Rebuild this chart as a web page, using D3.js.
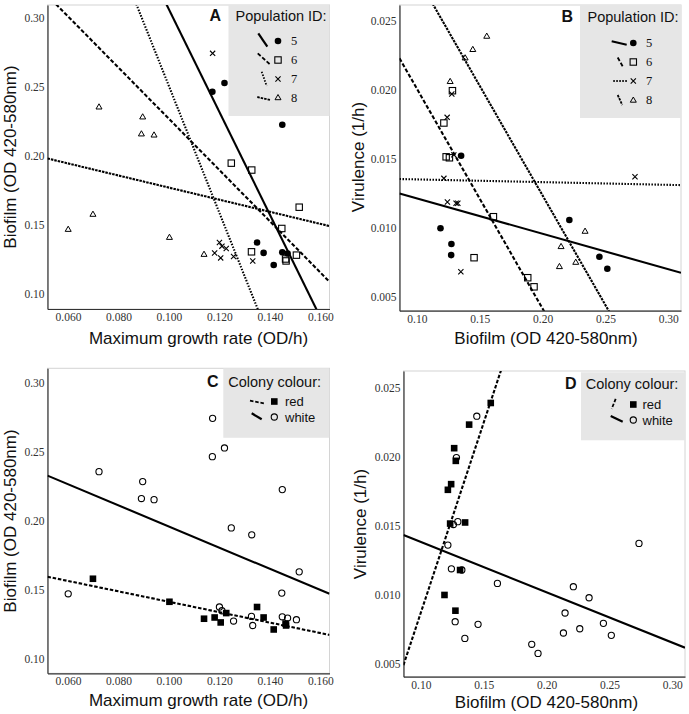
<!DOCTYPE html>
<html><head><meta charset="utf-8">
<script src="https://cdn.jsdelivr.net/npm/d3@7"></script>
<style>body{margin:0;background:#fff;} svg{display:block}</style>
</head><body><svg id="c" width="689" height="714"></svg>
<script>
// ---------- DATA: growth rate vs biofilm (panels A, C) ----------
const growthRate = [0.1172,0.1220,0.1449,0.1349,0.1375,0.1415,0.1449,0.1470,
  0.1247,0.1328,0.1516,0.1447,0.1327,0.1464,0.1462,0.1505,
  0.1173,0.1200,0.1210,0.1227,0.1181,0.1205,0.1256,0.1332,
  0.0723,0.0896,0.0891,0.0941,0.0699,0.0601,0.1002,0.1139];
const biofilmGR = [0.2466,0.2529,0.2227,0.1375,0.1299,0.1212,0.1304,0.1295,
  0.1949,0.1899,0.1630,0.1476,0.1307,0.1241,0.1255,0.1283,
  0.2744,0.1375,0.1348,0.1331,0.1299,0.1263,0.1273,0.1241,
  0.2357,0.2285,0.2162,0.2154,0.1580,0.1471,0.1413,0.1290];
const populationGR = [5,5,5,5,5,5,5,5, 6,6,6,6,6,6,6,6, 7,7,7,7,7,7,7,7, 8,8,8,8,8,8,8,8];
const colourGR = ["white","white","white","red","red","red","white","white",
  "white","white","white","white","white","red","red","white",
  "white","white","white","red","red","red","white","white",
  "white","white","white","white","red","white","red","red"];

// ---------- DATA: biofilm vs virulence (panels B, D) ----------
const biofilmV = [0.1352,0.2213,0.1188,0.1275,0.1273,0.2452,0.2515,
  0.1283,0.1215,0.1233,0.1259,0.1609,0.1455,0.1882,0.1932,
  0.1278,0.1241,0.1294,0.1215,0.2735,0.1243,0.1312,0.1326,0.1350,
  0.1556,0.1445,0.1384,0.1265,0.2338,0.2147,0.2264,0.2134];
const virulence = [0.01522,0.01056,0.00996,0.00882,0.00802,0.00790,0.00703,
  0.01993,0.01759,0.01514,0.01507,0.01080,0.00783,0.00638,0.00572,
  0.01969,0.01800,0.01528,0.01358,0.01370,0.01186,0.01177,0.01177,0.00681,
  0.02389,0.02293,0.02232,0.02061,0.00976,0.00865,0.00751,0.00720];
const populationV = [5,5,5,5,5,5,5, 6,6,6,6,6,6,6,6, 7,7,7,7,7,7,7,7,7, 8,8,8,8,8,8,8,8];
const colourV = ["red","white","red","red","white","white","white",
  "white","red","red","white","white","white","white","white",
  "red","red","white","white","white","white","red","white","white",
  "red","white","red","red","white","white","white","white"];

// ---------- Groups and fitted lines (intercept, slope) ----------
const populationIds = [5,6,7,8];
const colourIds = ["red","white"];
const fitA_intercept = [0.6778,0.4125,0.7098,0.2210];
const fitA_slope     = [-3.716,-1.855,-4.591,-0.438];
const fitB_intercept = [0.0147,0.03602,0.0137,0.04412];
const fitB_slope     = [-0.02568,-0.1594,-0.00197,-0.1589];
const fitC_intercept = [0.1791,0.2727];
const fitC_slope     = [-0.378,-0.768];
const fitD_intercept = [-0.01889,0.01746];
const fitD_slope     = [0.2757,-0.03653];

// ---------- Tick values ----------
const growthTicks = [0.06,0.08,0.10,0.12,0.14,0.16];
const biofilmTicksY = [0.10,0.15,0.20,0.25,0.30];
const biofilmTicksX = [0.10,0.15,0.20,0.25,0.30];
const virulenceTicks = [0.005,0.010,0.015,0.020,0.025];

// ---------- styles ----------
const popMarker = {5:"circleFilled",6:"squareOpen",7:"cross",8:"triangleOpen"};
const popDash = {5:null,6:"4,2",7:"1.5,1.5",8:"2.5,1"};
const colMarker = {red:"squareFilled",white:"circleOpen"};
const colDash = {red:"3.5,1.8",white:null};

const svg = d3.select("#c");
const sansFont = "'Liberation Sans', Arial, sans-serif";
const serifFont = "'Liberation Serif', 'DejaVu Serif', serif";

function drawMarker(g, kind, x, y) {
  if (kind === "circleFilled") g.append("circle").attr("cx",x).attr("cy",y).attr("r",3.3).attr("fill","#000");
  else if (kind === "circleOpen") g.append("circle").attr("cx",x).attr("cy",y).attr("r",3.1).attr("fill","none").attr("stroke","#000").attr("stroke-width",1.1);
  else if (kind === "squareOpen") g.append("rect").attr("x",x-3.2).attr("y",y-3.2).attr("width",6.4).attr("height",6.4).attr("fill","none").attr("stroke","#000").attr("stroke-width",1.1);
  else if (kind === "squareFilled") g.append("rect").attr("x",x-3.3).attr("y",y-3.3).attr("width",6.6).attr("height",6.6).attr("fill","#000");
  else if (kind === "cross") g.append("path").attr("d",`M${x-2.6},${y-2.6}L${x+2.6},${y+2.6}M${x-2.6},${y+2.6}L${x+2.6},${y-2.6}`).attr("stroke","#000").attr("stroke-width",1.1).attr("fill","none");
  else if (kind === "triangleOpen") g.append("path").attr("d",`M${x},${y-3}L${x+3},${y+2.2}L${x-3},${y+2.2}Z`).attr("stroke","#000").attr("stroke-width",1).attr("fill","none");
}

function panel(cfg) {
  const g = svg.append("g");
  const x = d3.scaleLinear().domain(cfg.xDomain).range([cfg.left, cfg.left + cfg.w]);
  const y = d3.scaleLinear().domain(cfg.yDomain).range([cfg.top + cfg.h, cfg.top]);
  // frame
  g.append("rect").attr("x",cfg.left).attr("y",cfg.top).attr("width",cfg.w).attr("height",cfg.h)
    .attr("fill","#fff").attr("stroke","#d4d4d4").attr("stroke-width",1);
  const clipId = "clip" + cfg.id;
  svg.append("clipPath").attr("id",clipId).append("rect")
    .attr("x",cfg.left).attr("y",cfg.top).attr("width",cfg.w).attr("height",cfg.h);
  // axes
  const ax = g.append("g").attr("transform",`translate(0,${cfg.top+cfg.h})`)
    .call(d3.axisBottom(x).tickValues(cfg.xTicks).tickSize(0).tickPadding(4).tickFormat(d3.format(cfg.xFmt)));
  const ay = g.append("g").attr("transform",`translate(${cfg.left},0)`)
    .call(d3.axisLeft(y).tickValues(cfg.yTicks).tickSize(0).tickPadding(3).tickFormat(d3.format(cfg.yFmt)));
  [ax,ay].forEach(a => {
    a.select(".domain").attr("stroke","#333").attr("stroke-width",1.2);
    a.selectAll("text").attr("font-family",serifFont).attr("font-size","11.5px").attr("fill","#333");
  });
  // legend box
  const lb = cfg.legend;
  g.append("rect").attr("x",lb.x).attr("y",lb.y).attr("width",lb.w).attr("height",lb.h).attr("fill","#e6e6e6");
  // fitted lines
  const lines = g.append("g").attr("clip-path",`url(#${clipId})`);
  cfg.fits.forEach(f => {
    const x0 = cfg.xDomain[0], x1 = cfg.xDomain[1];
    lines.append("line")
      .attr("x1",x(x0)).attr("y1",y(f.b0 + f.b1*x0))
      .attr("x2",x(x1)).attr("y2",y(f.b0 + f.b1*x1))
      .attr("stroke","#000").attr("stroke-width",2.1)
      .attr("stroke-dasharray",f.dash);
  });
  // points
  const pg = g.append("g");
  cfg.points.forEach(p => drawMarker(pg, p.kind, x(p.x), y(p.y)));
  // legend content
  g.append("text").attr("x",cfg.letter.x).attr("y",cfg.letter.y).text(cfg.id)
    .attr("font-family",sansFont).attr("font-weight","bold").attr("font-size","16px").attr("fill","#111");
  g.append("text").attr("x",lb.titleX).attr("y",lb.titleY).text(lb.title)
    .attr("font-family",sansFont).attr("font-size","14.5px").attr("fill","#111");
  lb.items.forEach(it => {
    g.append("line").attr("x1",lb.mx+it.seg[0]).attr("y1",it.row+it.seg[1])
      .attr("x2",lb.mx+it.seg[2]).attr("y2",it.row+it.seg[3])
      .attr("stroke","#000").attr("stroke-width",it.dash ? 1.8 : 2.2).attr("stroke-dasharray",it.dash);
    drawMarker(g, it.kind, lb.mx, it.row);
    g.append("text").attr("x",lb.lx).attr("y",it.row).attr("dy","0.35em").text(it.label)
      .attr("font-family",it.serif ? serifFont : sansFont).attr("font-size",it.serif ? "12.5px" : "13px").attr("fill","#111");
  });
  // axis titles
  g.append("text").attr("x",cfg.xTitle.x).attr("y",cfg.xTitle.y).attr("text-anchor","middle").text(cfg.xTitle.text)
    .attr("font-family",sansFont).attr("font-size","17px").attr("fill","#111");
  g.append("text").attr("transform",`translate(${cfg.yTitle.x},${cfg.yTitle.y}) rotate(-90)`).attr("text-anchor","middle").text(cfg.yTitle.text)
    .attr("font-family",sansFont).attr("font-size","17px").attr("fill","#111");
}

const ptsGR_pop = growthRate.map((v,i) => ({x:v, y:biofilmGR[i], kind:popMarker[populationGR[i]]}));
const ptsGR_col = growthRate.map((v,i) => ({x:v, y:biofilmGR[i], kind:colMarker[colourGR[i]]}));
const ptsV_pop = biofilmV.map((v,i) => ({x:v, y:virulence[i], kind:popMarker[populationV[i]]}));
const ptsV_col = biofilmV.map((v,i) => ({x:v, y:virulence[i], kind:colMarker[colourV[i]]}));

const segA = {5:[-19.7,-7.7,-10.7,5.7],6:[-20.3,-6.7,-7.3,5],7:[-16.3,-7.3,-11.3,7],8:[-20.7,-0.5,-7.3,2.5]};
const segB = {5:[-21.6,-1.8,-6.6,1.8],6:[-15.6,-4.5,-10,5.4],7:[-20,0,-5.6,0],8:[-15.6,-5,-11,5]};

panel({
  id:"A", left:47.5, top:5, w:282, h:304,
  xDomain:[0.0519,0.1636], yDomain:[0.0893,0.3094],
  xTicks:growthTicks, yTicks:biofilmTicksY, xFmt:".3f", yFmt:".2f",
  points:ptsGR_pop,
  fits:populationIds.map((p,i)=>({b0:fitA_intercept[i], b1:fitA_slope[i], dash:popDash[p]})),
  letter:{x:209.5,y:21},
  legend:{x:228.5,y:5,w:101,h:111,title:"Population ID:",titleX:235.5,titleY:21,mx:278,lx:291,
    items:populationIds.map((p,i)=>({row:[41,60,79,97.5][i], kind:popMarker[p], dash:popDash[p], seg:segA[p], label:String(p), serif:true}))},
  xTitle:{x:198.5,y:344,text:"Maximum growth rate (OD/h)"},
  yTitle:{x:16,y:157,text:"Biofilm (OD 420-580nm)"}
});

panel({
  id:"B", left:399.5, top:5, w:281.5, h:305.7,
  xDomain:[0.0862,0.3101], yDomain:[0.00399,0.02614],
  xTicks:biofilmTicksX, yTicks:virulenceTicks, xFmt:".2f", yFmt:".3f",
  points:ptsV_pop,
  fits:populationIds.map((p,i)=>({b0:fitB_intercept[i], b1:fitB_slope[i], dash:popDash[p]})),
  letter:{x:561.5,y:22},
  legend:{x:580,y:5,w:101,h:113,title:"Population ID:",titleX:587.5,titleY:22,mx:633.3,lx:646,
    items:populationIds.map((p,i)=>({row:[43,62,81,100][i], kind:popMarker[p], dash:popDash[p], seg:segB[p], label:String(p), serif:true}))},
  xTitle:{x:546,y:344,text:"Biofilm (OD 420-580nm)"},
  yTitle:{x:364,y:157,text:"Virulence (1/h)"}
});

panel({
  id:"C", left:47.5, top:368.3, w:282, h:305,
  xDomain:[0.0519,0.1636], yDomain:[0.0894,0.3107],
  xTicks:growthTicks, yTicks:biofilmTicksY, xFmt:".3f", yFmt:".2f",
  points:ptsGR_col,
  fits:colourIds.map((c,i)=>({b0:fitC_intercept[i], b1:fitC_slope[i], dash:colDash[c]})),
  letter:{x:207,y:387},
  legend:{x:223.3,y:368.3,w:106,h:69.5,title:"Colony colour:",titleX:228.3,titleY:387,mx:274.3,lx:285,
    items:[{row:401.5,kind:colMarker.red,dash:colDash.red,seg:[-24.3,-0.8,-9.3,2],label:"red"},
           {row:417,kind:colMarker.white,dash:colDash.white,seg:[-22.6,-3.7,-12.6,2.3],label:"white"}]},
  xTitle:{x:198.5,y:706,text:"Maximum growth rate (OD/h)"},
  yTitle:{x:16,y:521,text:"Biofilm (OD 420-580nm)"}
});

panel({
  id:"D", left:403.5, top:371, w:281.5, h:305.7,
  xDomain:[0.0862,0.3101], yDomain:[0.00403,0.02621],
  xTicks:biofilmTicksX, yTicks:virulenceTicks, xFmt:".2f", yFmt:".3f",
  points:ptsV_col,
  fits:colourIds.map((c,i)=>({b0:fitD_intercept[i], b1:fitD_slope[i], dash:colDash[c]})),
  letter:{x:565,y:389},
  legend:{x:581,y:372.3,w:104,h:68,title:"Colony colour:",titleX:585.7,titleY:389,mx:633.3,lx:642.5,
    items:[{row:404.5,kind:colMarker.red,dash:colDash.red,seg:[-17.6,-5.7,-21.6,4.3],label:"red"},
           {row:420,kind:colMarker.white,dash:colDash.white,seg:[-22.6,-4,-10.6,1.7],label:"white"}]},
  xTitle:{x:546.5,y:708,text:"Biofilm (OD 420-580nm)"},
  yTitle:{x:366,y:524,text:"Virulence (1/h)"}
});
</script></body></html>
